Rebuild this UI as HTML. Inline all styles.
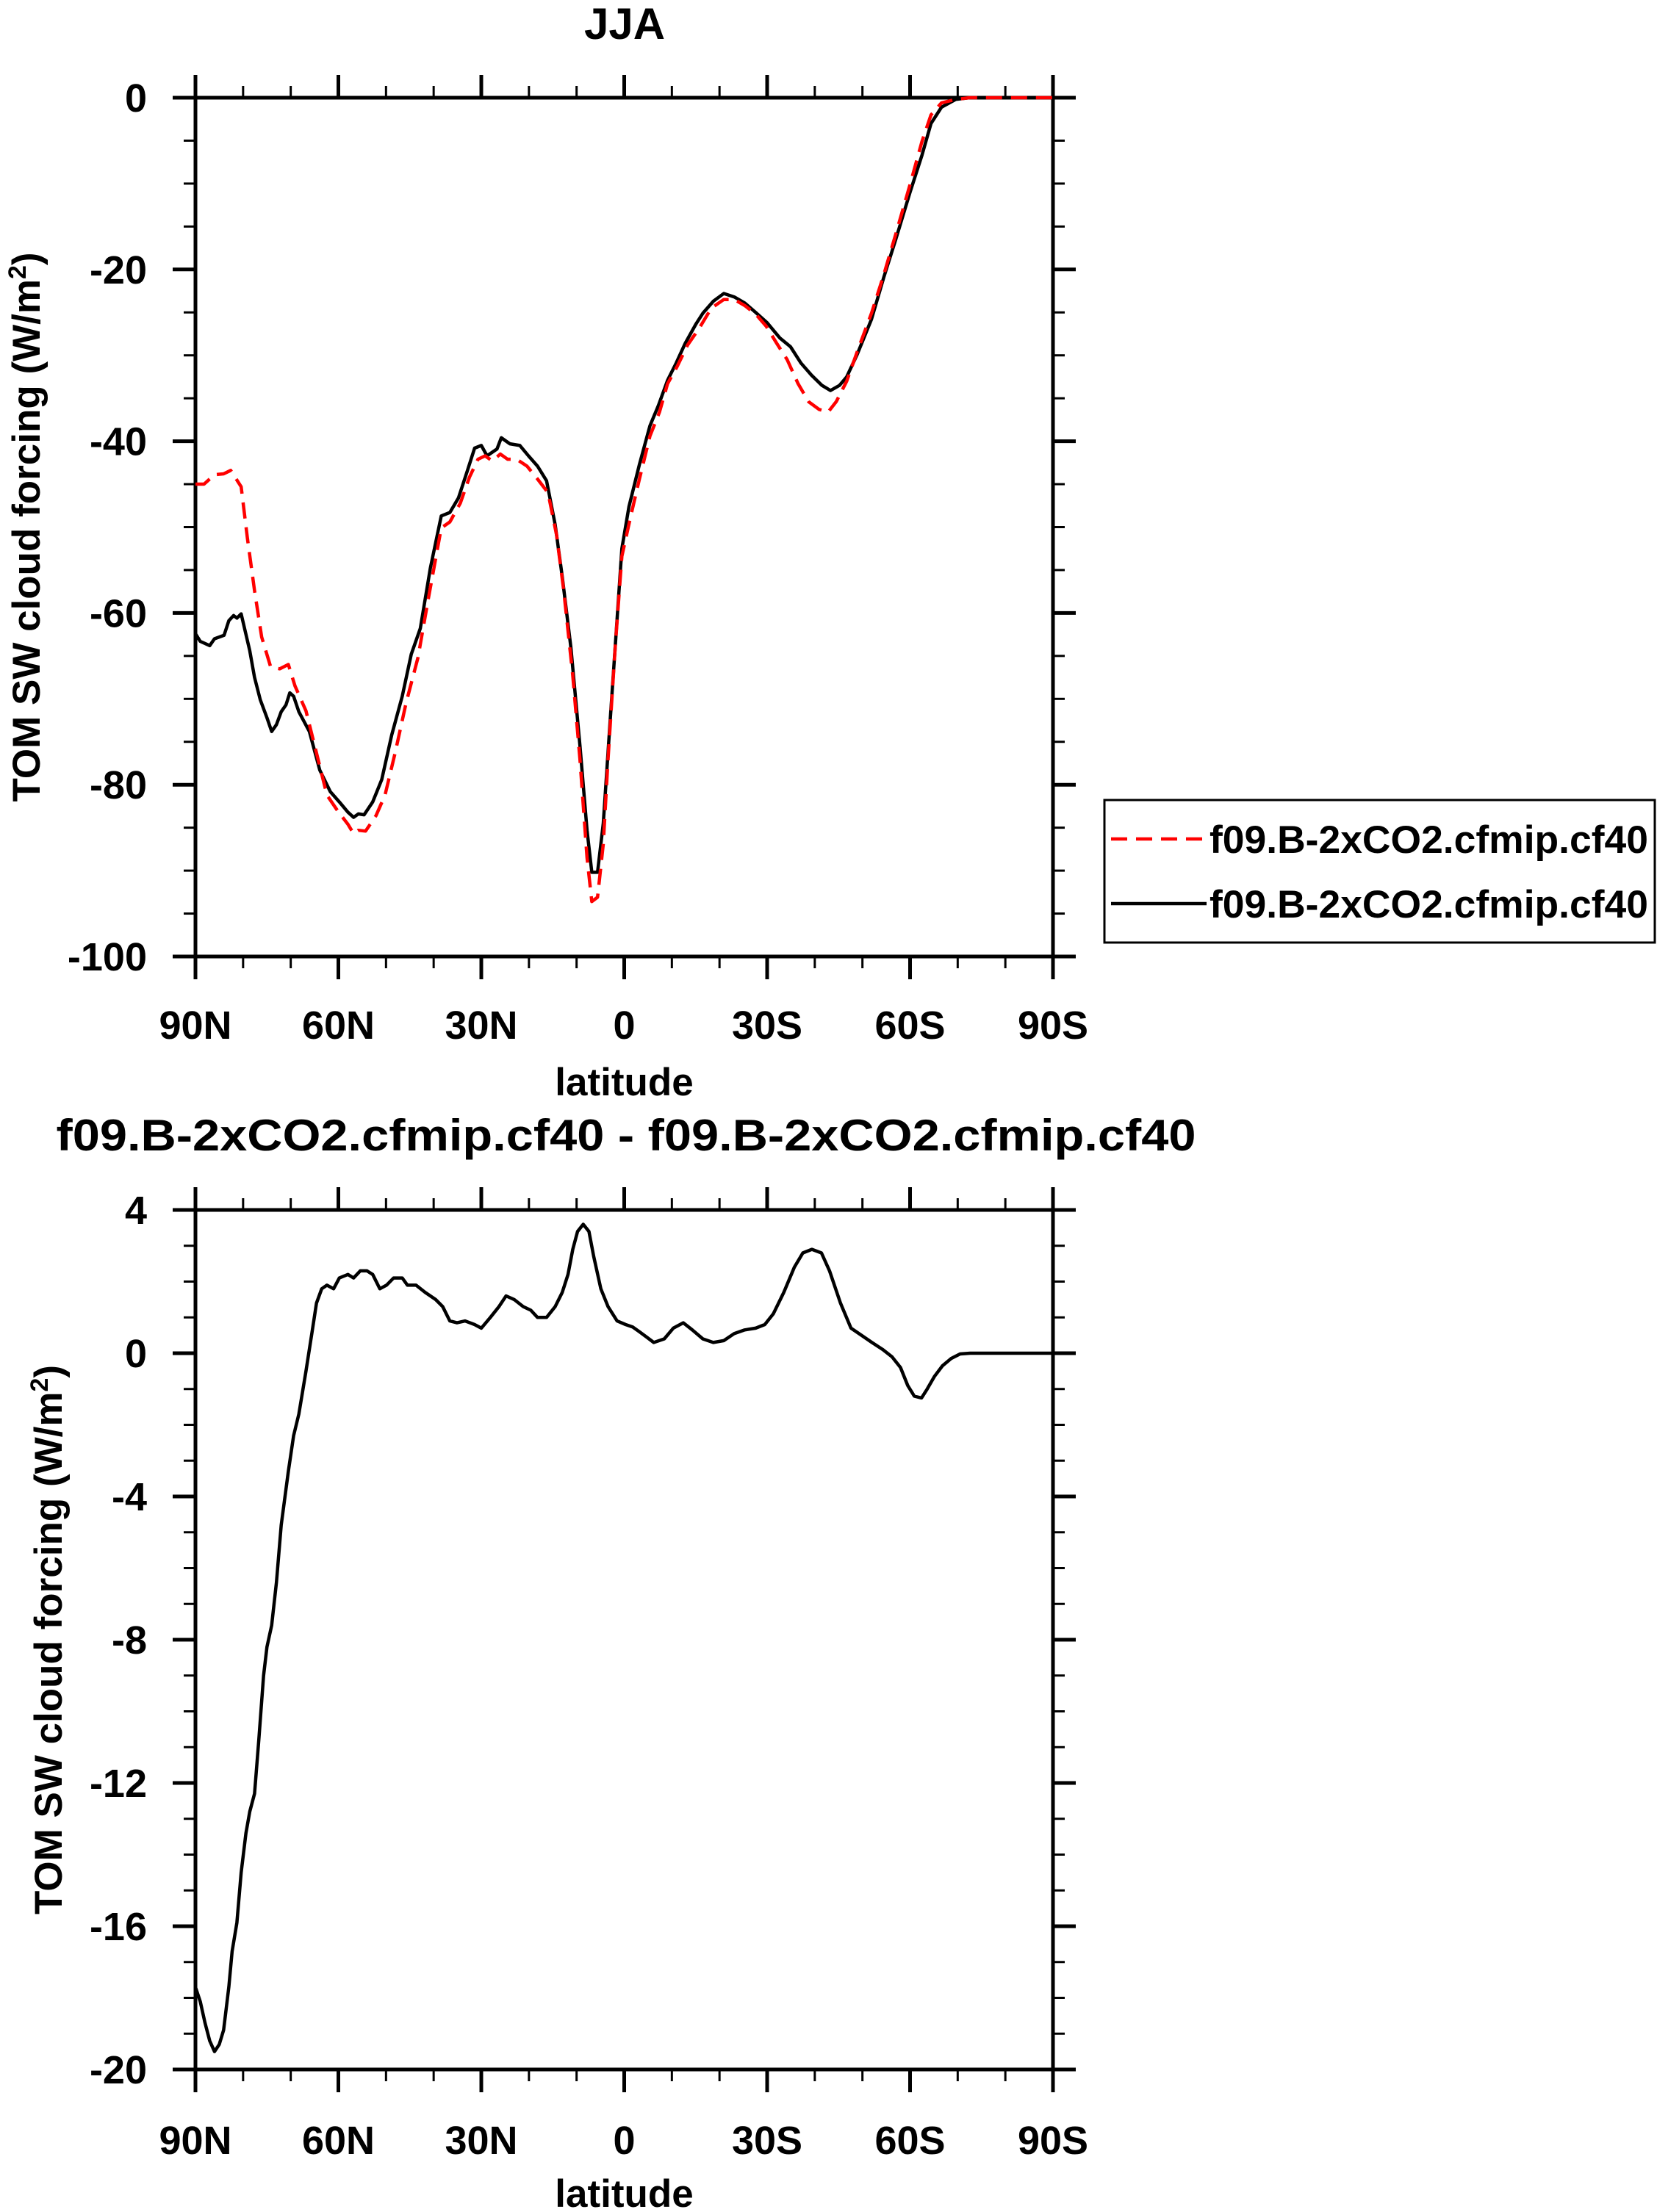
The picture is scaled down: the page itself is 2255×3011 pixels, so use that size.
<!DOCTYPE html>
<html><head><meta charset="utf-8"><style>
html,body{margin:0;padding:0;background:#fff;}
svg{display:block;}
text{font-family:"Liberation Sans",Arial,sans-serif;font-weight:bold;fill:#000;}
</style></head><body>
<svg id="svg" xmlns="http://www.w3.org/2000/svg" width="2255" height="3011" viewBox="0 0 2255 3011">
<rect width="2255" height="3011" fill="#fff"/>
</svg>
<script>
// ---- data ----
const redLat = [90,88.2,86,84.1,82.6,80.4,79.1,77.6,76.1,74.2,72.3,70.5,69.1,66.8,64.6,62.4,60.2,58,56.8,55.8,54.3,52.1,50.2,48.1,45.8,43.3,41.1,38.4,36.6,34.4,32.5,30.7,29.2,27.7,26,24.5,22.6,20.4,18.2,16,14.2,12.7,10.8,9.3,7.8,6.8,5.6,4.4,3.4,1.9,0.5,-1.3,-3.2,-5.4,-7.4,-9.1,-11.1,-13.3,-15.8,-18.3,-20.9,-23.1,-25.3,-27.6,-29.8,-32,-34.2,-36.5,-38.7,-40.9,-42.8,-44.5,-46.7,-48.9,-51.9,-54.5,-57,-60,-62.5,-64.4,-66.6,-69.6,-72.5,-80,-90];
const redVal = [-45,-45,-43.9,-43.8,-43.4,-45.3,-51.3,-57.4,-62.8,-66.3,-66.5,-66,-68.5,-71.4,-76.3,-81.2,-83,-84.6,-85.7,-85.3,-85.4,-83.6,-81.2,-76.3,-70.5,-65.2,-58.3,-50.1,-49.4,-47.2,-44.2,-42.1,-41.7,-42.3,-41.5,-42.1,-42.1,-42.9,-44.4,-46,-50.9,-57.4,-67.3,-77,-88.5,-93.6,-93.1,-86.9,-77,-64,-53.4,-48.9,-44.4,-39.4,-36.6,-33.3,-31.3,-28.8,-26.8,-24.5,-23.5,-23.5,-24.2,-25.2,-26.6,-28.6,-30.5,-33.3,-35.4,-36.3,-36.6,-35.4,-33,-29.6,-25.1,-20.6,-15.9,-10.1,-5.1,-2,-0.6,-0.2,0,0,0];
const blkLat = [90,89,87,86,84,83,82,81.3,80.4,78.6,77.6,76.4,75,74,73,72,71,70.2,69.4,68.3,66.1,63.9,61.7,59.8,58,56.8,55.8,54.6,52.8,50.9,48.8,46.6,44.7,42.8,40.7,38.4,36.6,34.8,32.9,31.4,30,28.8,26.7,25.8,24,21.9,20.1,18.2,16.3,14.5,13,11.2,9.3,7.8,6.8,5.6,4.4,3,1.5,0.5,-1,-3.2,-5.4,-7.2,-9.1,-10.9,-12.8,-15,-16.5,-18.7,-20.9,-23.1,-25.3,-27.6,-30,-32.7,-34.9,-37.1,-39.3,-41.5,-43.3,-45.2,-46.7,-48.9,-51.9,-54.5,-57,-60,-62.5,-64.4,-66.6,-69.6,-72.5,-80,-90];
const blkVal = [-62.4,-63.3,-63.8,-63,-62.6,-60.9,-60.3,-60.6,-60.1,-64.4,-67.5,-70.1,-72.2,-73.8,-73,-71.5,-70.7,-69.3,-69.7,-71.5,-73.8,-78.3,-80.8,-82,-83.2,-83.8,-83.4,-83.5,-82,-79.4,-74.2,-69.7,-64.8,-61.8,-54.8,-48.7,-48.3,-46.6,-43.4,-40.8,-40.5,-41.7,-40.9,-39.6,-40.3,-40.5,-41.7,-42.9,-44.6,-49.7,-55.8,-64,-75.4,-85.3,-90.2,-90.2,-84.5,-73,-60.7,-52.5,-47.6,-42.7,-38.2,-35.8,-32.9,-30.9,-28.6,-26.4,-25.1,-23.7,-22.8,-23.2,-23.9,-25,-26.2,-28,-29,-30.9,-32.3,-33.5,-34.1,-33.5,-32.5,-29.9,-25.8,-20.9,-16.5,-11,-6.7,-3,-1.1,-0.2,0,0,0];
const difLat = [90,89,88,87,86,85,84.1,83,82.3,81.3,80.4,79.4,78.6,77.6,76.7,75.7,75,74,73,72,70.5,69.4,68.3,66.8,65.4,64.6,63.5,62.4,61,59.8,58,56.8,55.4,54,52.8,51.3,49.9,48.4,46.6,45.5,43.7,41.8,39.6,38.1,36.6,35.1,33.4,31.4,30,28.1,26.3,24.8,23.1,21.2,19.6,18.2,16.3,14.5,13,11.8,10.8,9.8,8.6,7.4,6.4,4.9,3.4,1.5,-0.3,-1.8,-3.2,-4.7,-6.2,-8.4,-10.3,-12.4,-14.3,-16.5,-18.7,-20.9,-23.1,-25.3,-27.6,-29.5,-31.3,-33.5,-35.7,-37.5,-39.4,-41.4,-43.1,-45.4,-47.6,-49.8,-52,-54.3,-56.2,-58,-59.5,-60.9,-62.4,-63.6,-65.1,-66.8,-68.6,-70.5,-72.6,-80,-90];
const difVal = [-17.7,-18.1,-18.7,-19.2,-19.5,-19.3,-18.9,-17.7,-16.7,-15.9,-14.5,-13.4,-12.8,-12.3,-10.8,-9,-8.2,-7.6,-6.4,-4.8,-3.3,-2.3,-1.7,-0.5,0.7,1.4,1.8,1.9,1.8,2.1,2.2,2.1,2.3,2.3,2.2,1.8,1.9,2.1,2.1,1.9,1.9,1.7,1.5,1.3,0.9,0.85,0.9,0.8,0.7,1,1.3,1.6,1.5,1.3,1.2,1,1,1.3,1.7,2.2,2.9,3.4,3.6,3.4,2.7,1.8,1.3,0.9,0.8,0.73,0.6,0.45,0.3,0.4,0.7,0.85,0.65,0.4,0.3,0.35,0.55,0.65,0.7,0.8,1.1,1.7,2.4,2.8,2.9,2.8,2.3,1.4,0.7,0.5,0.3,0.1,-0.1,-0.4,-0.9,-1.2,-1.25,-1,-0.65,-0.35,-0.15,-0.02,0,0,0];
const xTickLats = [90,60,30,0,-30,-60,-90];
const xTickLabels = ["90N","60N","30N","0","30S","60S","90S"];
const topYTicks = [0,-20,-40,-60,-80,-100];
const botYTicks = [4,0,-4,-8,-12,-16,-20];
const legendLabels = ["f09.B-2xCO2.cfmip.cf40","f09.B-2xCO2.cfmip.cf40"];

const NS="http://www.w3.org/2000/svg";
const svg=document.getElementById('svg');
function mk(tag,attrs,parent){const e=document.createElementNS(NS,tag);for(const k in attrs)e.setAttribute(k,attrs[k]);(parent||svg).appendChild(e);return e;}
const L=266,R=1433;
function xs(lat){return L+(90-lat)/180*(R-L);}

function panel(name,top,bot,ymin,ymax,yTicks,minorStep,labelBase,latBase,ylabX){
  const g=mk('g',{});
  
  
  const ys=v=>bot-(v-ymin)/(ymax-ymin)*(bot-top);
  for(let lat=90;lat>=-90;lat-=10){
    if(lat%30===0)continue;
    mk('line',{x1:xs(lat),x2:xs(lat),y1:top,y2:top-16,stroke:'#000','stroke-width':3},g);
    mk('line',{x1:xs(lat),x2:xs(lat),y1:bot,y2:bot+16,stroke:'#000','stroke-width':3},g);
  }
  for(let v=ymin;v<=ymax+1e-9;v+=minorStep){
    mk('line',{x1:L,x2:L-16,y1:ys(v),y2:ys(v),stroke:'#000','stroke-width':3},g);
    mk('line',{x1:R,x2:R+16,y1:ys(v),y2:ys(v),stroke:'#000','stroke-width':3},g);
  }
  xTickLats.forEach((lat,i)=>{
    mk('line',{x1:xs(lat),x2:xs(lat),y1:top,y2:top-31,stroke:'#000','stroke-width':5},g);
    mk('line',{x1:xs(lat),x2:xs(lat),y1:bot,y2:bot+31,stroke:'#000','stroke-width':5},g);
    const t=mk('text',{x:xs(lat),y:labelBase,'text-anchor':'middle','font-size':54},g);
    
    
    t.textContent=xTickLabels[i];
  });
  yTicks.forEach(v=>{
    mk('line',{x1:L,x2:L-31,y1:ys(v),y2:ys(v),stroke:'#000','stroke-width':5},g);
    mk('line',{x1:R,x2:R+31,y1:ys(v),y2:ys(v),stroke:'#000','stroke-width':5},g);
    const t=mk('text',{x:200,y:ys(v)+19,'text-anchor':'end','font-size':54},g);
    
    
    t.textContent=String(v);
  });
  mk('rect',{x:L,y:top,width:R-L,height:bot-top,fill:'none',stroke:'#000','stroke-width':5},g);
  const xl=mk('text',{x:(L+R)/2,y:latBase,'text-anchor':'middle','font-size':53},g);
  
  
  xl.textContent='latitude';
  const yc=(top+bot)/2;
  const yl=mk('text',{x:ylabX,y:yc,'text-anchor':'middle','font-size':53,transform:`rotate(-90 ${ylabX} ${yc})`},g);
  
  
  yl.innerHTML='TOM SW cloud forcing (W/m<tspan dy="-19" font-size="34">2</tspan><tspan dy="19">)</tspan>';
  return {g,ys};
}
function line(p,lats,vals,color,dash,name){
  const d=lats.map((la,i)=>(i?'L':'M')+xs(la).toFixed(1)+','+p.ys(vals[i]).toFixed(1)).join('');
  const a={d,fill:'none',stroke:color,'stroke-width':4.5,'stroke-linejoin':'round'};
  if(dash)a['stroke-dasharray']=dash;
  const e=mk('path',a,p.g);
  
  
}
const p1=panel('top-panel',133,1302,-100,0,topYTicks,5,1414,1491,54);
line(p1,blkLat,blkVal,'#000',null,'series-black');
line(p1,redLat,redVal,'#f00','22 12','series-red-dashed');
const p2=panel('bottom-panel',1647,2817,-20,4,botYTicks,1,2932,3004,84);
line(p2,difLat,difVal,'#000',null,'series-difference');

const t1=mk('text',{x:850,y:53,'text-anchor':'middle','font-size':60});


t1.textContent='JJA';
const t2=mk('text',{x:852,y:1566,'text-anchor':'middle','font-size':60,textLength:1551,lengthAdjust:'spacingAndGlyphs'});


t2.textContent='f09.B-2xCO2.cfmip.cf40 - f09.B-2xCO2.cfmip.cf40';

const lg=mk('g',{});


mk('rect',{x:1503,y:1089,width:749,height:194,fill:'#fff',stroke:'#000','stroke-width':3},lg);
const ly=[1142,1230];
const lc=['#f00','#000'];
ly.forEach((y,i)=>{
  const s=mk('line',{x1:1512,x2:1642,y1:y,y2:y,stroke:lc[i],'stroke-width':4.5},lg);
  if(i===0)s.setAttribute('stroke-dasharray','22 12');
  
  
  const t=mk('text',{x:1646,y:y+19,'font-size':53,textLength:597,lengthAdjust:'spacingAndGlyphs'},lg);
  
  
  t.textContent=legendLabels[i];
});
</script>
</body></html>
